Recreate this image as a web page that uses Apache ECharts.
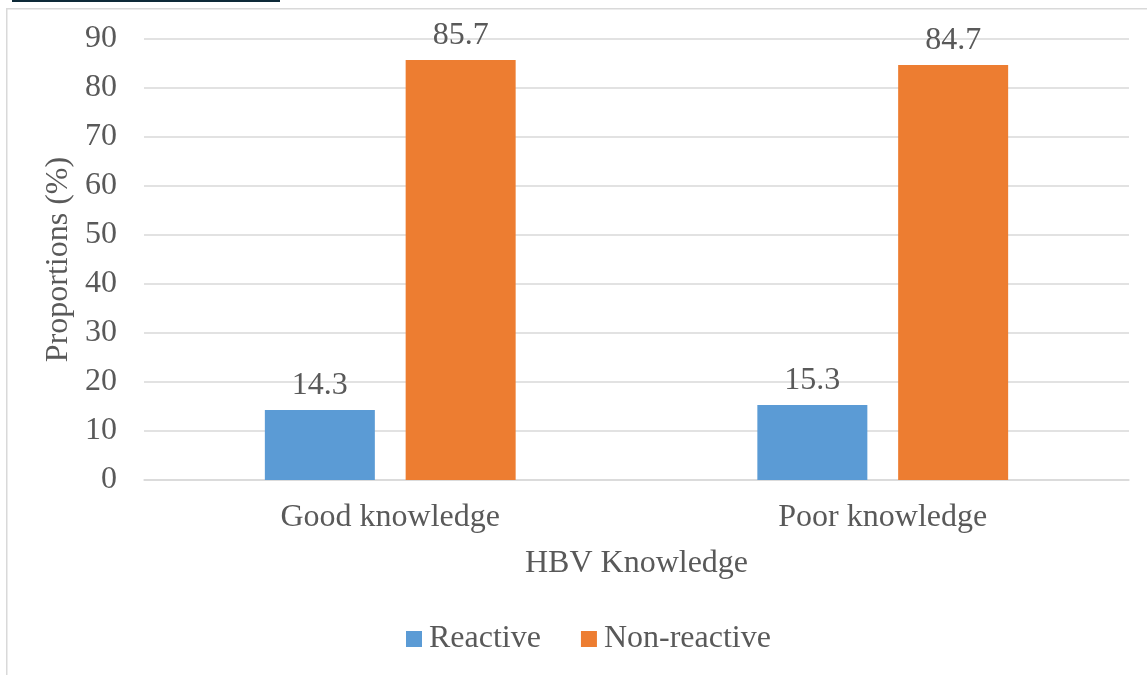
<!DOCTYPE html>
<html lang="en">
<head>
    <meta charset="utf-8">
    <title>HBV Knowledge</title>
    <script src="https://cdn.jsdelivr.net/npm/echarts@6/dist/echarts.min.js"></script>
    <style>
        html, body { margin: 0; padding: 0; background: #fff; }
        #main { width: 1147px; height: 675px; }
    </style>
</head>
<body>
<div id="main"></div>
<script type="text/javascript">
    // data
    var categories = ['Good knowledge', 'Poor knowledge'];
    var reactive = [14.3, 15.3];
    var nonReactive = [85.7, 84.7];
    var seriesNames = ['Reactive', 'Non-reactive'];

    var FONT = '"Liberation Serif", "Times New Roman", serif';
    var TXT = '#595959';
    var FS = 32;

    var myChart = echarts.init(document.getElementById('main'));
    var option = {
        animation: false,
        textStyle: { fontFamily: FONT },
        grid: { left: 144, right: 18, top: 39, bottom: 195 },
        legend: {
            data: seriesNames,
            bottom: 15,
            left: 401,
            itemWidth: 16,
            itemHeight: 16,
            itemGap: 40,
            icon: 'rect',
            textStyle: { fontFamily: FONT, fontSize: FS, color: TXT, padding: [0, 0, 0, 2] }
        },
        xAxis: {
            type: 'category',
            data: categories,
            name: 'HBV Knowledge',
            nameLocation: 'middle',
            nameGap: 68,
            nameTextStyle: { fontFamily: FONT, fontSize: FS, color: TXT },
            axisLine: { lineStyle: { color: '#d9d9d9', width: 1.5 } },
            axisTick: { show: false },
            axisLabel: { fontFamily: FONT, fontSize: FS, color: TXT, margin: 22 }
        },
        yAxis: {
            type: 'value',
            min: 0,
            max: 90,
            interval: 10,
            name: 'Proportions (%)',
            nameLocation: 'middle',
            nameGap: 68,
            nameTextStyle: { fontFamily: FONT, fontSize: FS, color: TXT },
            axisLine: { show: false },
            axisTick: { show: false },
            axisLabel: { fontFamily: FONT, fontSize: FS, color: TXT, margin: 27 },
            splitLine: { lineStyle: { color: '#d9d9d9', width: 1.5 } }
        },
        series: [
            {
                name: seriesNames[0],
                type: 'bar',
                data: reactive,
                barWidth: 110,
                barGap: '28%',
                itemStyle: { color: '#5B9BD5' },
                label: { show: true, position: 'top', distance: 8, fontFamily: FONT, fontSize: FS, color: TXT }
            },
            {
                name: seriesNames[1],
                type: 'bar',
                data: nonReactive,
                barWidth: 110,
                barGap: '28%',
                itemStyle: { color: '#ED7D31' },
                label: { show: true, position: 'top', distance: 8, fontFamily: FONT, fontSize: FS, color: TXT }
            }
        ],
        graphic: [
            // dark rule at the top-left
            { type: 'rect', left: 12, top: 0, shape: { width: 268, height: 2 }, style: { fill: '#0e2a38' } },
            // frame borders
            { type: 'rect', left: 6, top: 8, shape: { width: 1147, height: 1.5 }, style: { fill: '#d9d9d9' } },
            { type: 'rect', left: 6, top: 8, shape: { width: 1.5, height: 675 }, style: { fill: '#d9d9d9' } }
        ]
    };
    myChart.setOption(option);
</script>
</body>
</html>
